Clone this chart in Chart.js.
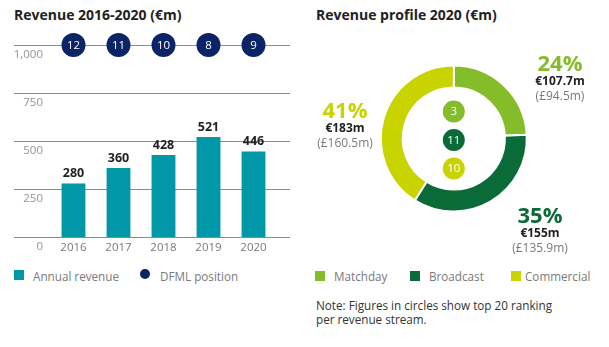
<!DOCTYPE html>
<html>
<head>
<meta charset="utf-8">
<script src="https://cdn.jsdelivr.net/npm/chart.js"></script>
<style>
  body { margin: 0; width: 609px; height: 347px; background: #fff; position: relative; overflow: hidden;
         font-family: "Open Sans", sans-serif; }
  .abs { position: absolute; white-space: nowrap; }
  .title { font-size: 14px; font-weight: bold; color: #222; line-height: 20px; }
  .leg { font-size: 11.7px; color: #7a7a7a; line-height: 16px; }
  .sq { position: absolute; width: 10px; height: 10px; }
  .callout { position: absolute; transform: translateX(-50%); text-align: center; white-space: nowrap; }
  .callout .pct { font-size: 22px; font-weight: bold; line-height: 22px; }
  .callout .eur { font-size: 12px; font-weight: bold; color: #222; line-height: 15px; }
  .callout .gbp { font-size: 12px; color: #7a7a7a; line-height: 15px; }
  .note { font-size: 11.7px; color: #333; line-height: 13.5px; }
</style>
</head>
<body>
<div class="abs title" style="left:14px;top:5px">Revenue 2016-2020 (€m)</div>
<div class="abs title" style="left:316px;top:5px">Revenue profile 2020 (€m)</div>

<canvas id="bars" class="abs" width="300" height="251" style="left:0;top:0"></canvas>
<canvas id="donut" class="abs" width="309" height="260" style="left:300px;top:0"></canvas>

<div id="callouts"></div>

<div class="sq" style="left:14px;top:270px;background:#0097a9"></div>
<div class="abs leg" style="left:33px;top:268px">Annual revenue</div>
<div class="sq" style="left:140px;top:269px;border-radius:50%;background:#0a2467"></div>
<div class="abs leg" style="left:160px;top:268px">DFML position</div>

<div id="donutLegend"></div>

<div class="abs note" style="left:316px;top:299px">Note: Figures in circles show top 20 ranking<br>per revenue stream.</div>

<script>
// bar chart data
const years = ['2016', '2017', '2018', '2019', '2020'];
const revenue = [280, 360, 428, 521, 446];
const dfmlPosition = [12, 11, 10, 8, 9];
const dfmlRow = 1000;
const yTicks = [0, 250, 500, 750, 1000];
const yTickLabels = ['0', '250', '500', '750', '1,000'];

// revenue profile data
const streams = ['Matchday', 'Broadcast', 'Commercial'];
const streamEur = [107.7, 155, 183];
const streamGbp = [94.5, 135.9, 160.5];
const top20Rank = [3, 11, 10];

const streamColors = ['#84bc2a', '#0b6b38', '#c9d300'];
const FONT = '"Open Sans", sans-serif';

// grid lines, axis labels, value labels, DFML numbers
const barDecor = {
  id: 'barDecor',
  beforeDatasetsDraw(chart) {
    const { ctx, scales: { y } } = chart;
    ctx.save();
    ctx.strokeStyle = '#8c8c8c';
    ctx.lineWidth = 1;
    ctx.font = '11.5px ' + FONT;
    ctx.fillStyle = '#8e939b';
    ctx.textAlign = 'right';
    ctx.textBaseline = 'middle';
    yTicks.forEach((v, i) => {
      const py = Math.round(y.getPixelForValue(v)) + 0.5;
      ctx.beginPath();
      ctx.moveTo(14, py);
      ctx.lineTo(290, py);
      ctx.stroke();
      ctx.fillText(yTickLabels[i], 43, py + 9.5);
    });
    ctx.restore();
  },
  afterDatasetsDraw(chart) {
    const ctx = chart.ctx;
    ctx.save();
    ctx.textAlign = 'center';
    ctx.textBaseline = 'middle';
    ctx.font = 'bold 12.5px ' + FONT;
    ctx.fillStyle = '#222';
    chart.getDatasetMeta(1).data.forEach((bar, i) => {
      ctx.fillText(revenue[i], bar.x, bar.y - 10);
    });
    ctx.font = '11.5px ' + FONT;
    ctx.fillStyle = '#fff';
    chart.getDatasetMeta(0).data.forEach((pt, i) => {
      ctx.fillText(dfmlPosition[i], pt.x, pt.y + 0.5);
    });
    ctx.restore();
  }
};

new Chart(document.getElementById('bars'), {
  type: 'bar',
  data: {
    labels: years,
    datasets: [
      {
        type: 'line',
        label: 'DFML position',
        data: dfmlPosition.map(() => dfmlRow),
        showLine: false,
        pointRadius: 12,
        pointBackgroundColor: '#0a2467',
        pointBorderWidth: 0,
        clip: false
      },
      {
        label: 'Annual revenue',
        data: revenue,
        backgroundColor: '#0097a9',
        categoryPercentage: 1,
        barPercentage: 0.53
      }
    ]
  },
  options: {
    responsive: false,
    animation: false,
    layout: { padding: { top: 45, left: 51, right: 24, bottom: 0 } },
    plugins: { legend: { display: false }, tooltip: { enabled: false } },
    scales: {
      x: {
        grid: { display: false },
        border: { display: false },
        ticks: { color: '#7a7a7a', font: { family: FONT, size: 11.5 }, padding: -4 }
      },
      y: { display: false, min: 0, max: 1000 }
    }
  },
  plugins: [barDecor]
});

// ranking circles in the middle of the ring
const rankDots = {
  id: 'rankDots',
  afterDatasetsDraw(chart) {
    const arc = chart.getDatasetMeta(0).data[0];
    const ctx = chart.ctx;
    const offsets = [-27, 1.5, 30];
    ctx.save();
    ctx.textAlign = 'center';
    ctx.textBaseline = 'middle';
    ctx.font = '11.5px ' + FONT;
    top20Rank.forEach((r, i) => {
      const cy = arc.y + offsets[i];
      ctx.beginPath();
      ctx.arc(arc.x, cy, 11, 0, Math.PI * 2);
      ctx.fillStyle = streamColors[i];
      ctx.fill();
      ctx.fillStyle = '#fff';
      ctx.fillText(r, arc.x, cy + 0.5);
    });
    ctx.restore();
  }
};

new Chart(document.getElementById('donut'), {
  type: 'doughnut',
  data: {
    labels: streams,
    datasets: [{
      data: streamEur,
      backgroundColor: streamColors,
      borderColor: '#fff',
      borderWidth: 2
    }]
  },
  options: {
    responsive: false,
    animation: false,
    cutout: '70%',
    layout: { padding: { left: 79.8, right: 81.2, top: 64.5, bottom: 47.5 } },
    plugins: { legend: { display: false }, tooltip: { enabled: false } }
  },
  plugins: [rankDots]
});

// callouts around the ring
const total = streamEur.reduce((a, b) => a + b, 0);
const calloutPos = [[560, 51], [540, 202.5], [345, 97.5]];
let html = '';
streams.forEach((s, i) => {
  const pct = Math.round(streamEur[i] / total * 100);
  html += '<div class="callout" style="left:' + calloutPos[i][0] + 'px;top:' + calloutPos[i][1] + 'px">' +
    '<div class="pct" style="color:' + streamColors[i] + '">' + pct + '%</div>' +
    '<div class="eur">€' + streamEur[i] + 'm</div>' +
    '<div class="gbp">(£' + streamGbp[i] + 'm)</div></div>';
});
document.getElementById('callouts').innerHTML = html;

const legendX = [[315, 334], [410, 429], [511, 525]];
let leg = '';
streams.forEach((s, i) => {
  leg += '<div class="sq" style="left:' + legendX[i][0] + 'px;top:271px;background:' + streamColors[i] + '"></div>' +
    '<div class="abs leg" style="left:' + legendX[i][1] + 'px;top:268px">' + s + '</div>';
});
document.getElementById('donutLegend').innerHTML = leg;
</script>
</body>
</html>
